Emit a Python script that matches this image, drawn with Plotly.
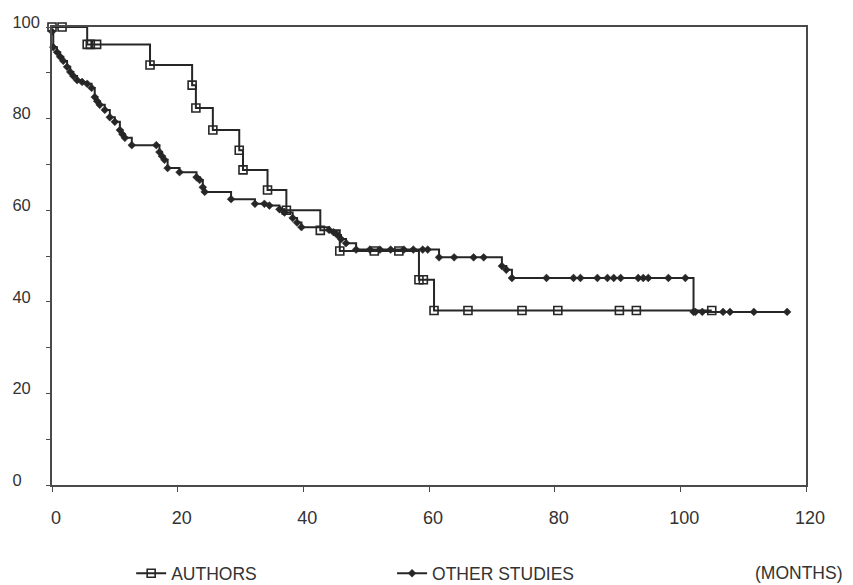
import plotly.graph_objects as go

# ---- data (Kaplan-Meier style survival curves, % vs months) ----
auth_t = [0, 1.6, 5.6, 6.1, 7.1, 15.6, 22.3, 22.9, 25.6, 29.8, 30.4, 34.3, 37.3,
          42.7, 45.8, 51.3, 55.2, 58.4, 59.1, 60.8, 66.2, 74.8, 80.5, 90.3, 93.0, 105.0]
auth_s = [100, 100, 96.2, 96.2, 96.2, 91.7, 87.3, 82.3, 77.5, 73.1, 68.8, 64.4, 60.0,
          55.6, 51.1, 51.1, 51.1, 44.8, 44.8, 38.1, 38.1, 38.1, 38.1, 38.1, 38.1, 38.1]

oth_t = [0, 0.2, 0.8, 1.3, 1.8, 2.4, 2.9, 3.4, 4.0, 4.8,
         5.6, 6.3, 6.8, 7.2, 7.6, 8.4, 9.2, 10.0, 10.8, 11.2,
         11.6, 12.7, 16.6, 17.1, 17.5, 17.9, 18.4, 20.3, 23.0, 23.5,
         24.0, 24.3, 28.5, 32.3, 33.8, 34.6, 36.2, 37.0, 38.3, 39.0,
         39.7, 44.1, 44.8, 45.4, 46.0, 46.8, 48.4, 50.6, 52.2, 53.9,
         56.0, 57.5, 59.0, 59.8, 61.6, 64.0, 67.1, 68.7, 71.6, 72.3,
         73.2, 78.7, 83.0, 84.1, 86.8, 88.4, 89.4, 90.5, 93.3, 94.1,
         94.9, 98.1, 100.8, 102.1, 102.4, 103.5, 106.8, 107.9, 111.7, 117.0]
oth_s = [99.0, 95.6, 94.5, 93.5, 92.6, 91.3, 90.2, 89.3, 88.4, 88.0,
         87.6, 86.7, 84.7, 83.8, 83.0, 81.9, 80.3, 79.3, 77.5, 76.6,
         75.8, 74.2, 74.2, 72.7, 71.8, 71.0, 69.2, 68.3, 67.2, 66.6,
         65.0, 64.0, 62.4, 61.4, 61.4, 61.0, 60.2, 59.5, 58.3, 57.3,
         56.3, 55.7, 55.2, 54.6, 53.7, 52.8, 51.4, 51.4, 51.4, 51.4,
         51.4, 51.4, 51.4, 51.4, 49.7, 49.7, 49.7, 49.7, 47.8, 47.0,
         45.2, 45.2, 45.2, 45.2, 45.2, 45.2, 45.2, 45.2, 45.2, 45.2,
         45.2, 45.2, 45.2, 37.8, 37.8, 37.8, 37.8, 37.8, 37.8, 37.8]

x_ticks = [0, 20, 40, 60, 80, 100, 120]
y_ticks = [0, 20, 40, 60, 80, 100]
y_minor = [10, 30, 50, 70, 90]
series_names = ["AUTHORS", "OTHER STUDIES"]
x_unit = "(MONTHS)"

INK = "#262626"
AXC = "#4a4a4a"
TXT = "#333333"
FONT = "Liberation Sans, Arial, Helvetica, sans-serif"

# y tick labels appear left-aligned in the reference: pad with figure spaces
maxlen = max(len(str(v)) for v in y_ticks)
y_text = [str(v) + "\u2007" * (maxlen - len(str(v))) for v in y_ticks]

fig = go.Figure()
fig.add_trace(go.Scatter(
    x=oth_t, y=oth_s, mode="lines+markers", line_shape="hv",
    name=series_names[1], legend="legend2", cliponaxis=False,
    line=dict(color=INK, width=2),
    marker=dict(symbol="diamond", size=6, color=INK, line=dict(width=0.5, color=INK)),
))
fig.add_trace(go.Scatter(
    x=auth_t, y=auth_s, mode="lines+markers", line_shape="hv",
    name=series_names[0], legend="legend", cliponaxis=False,
    line=dict(color=INK, width=2),
    marker=dict(symbol="square-open", size=8, color=INK, line=dict(width=1.6, color=INK)),
))

LEG_Y = -0.193

# the page body adds an 8px offset, so the figure is 8px smaller and margins compensate
fig.update_layout(
    width=845, height=577,
    margin=dict(l=44, r=47, t=19, b=100, autoexpand=False),
    paper_bgcolor="white", plot_bgcolor="white",
    font=dict(family=FONT, color=TXT, size=15),
    showlegend=True,
    legend=dict(orientation="h", x=0.105, y=LEG_Y, xanchor="left", yanchor="middle",
                font=dict(size=17.5, family=FONT, color=TXT),
                bgcolor="rgba(0,0,0,0)"),
    legend2=dict(orientation="h", x=0.451, y=LEG_Y, xanchor="left", yanchor="middle",
                 font=dict(size=17.5, family=FONT, color=TXT),
                 bgcolor="rgba(0,0,0,0)"),
    xaxis=dict(range=[0, 120], tickvals=x_ticks, ticks="outside", ticklen=5,
               tickcolor=AXC, showline=True, linecolor=AXC, linewidth=1.5,
               mirror=True, showgrid=False, zeroline=False, automargin=False,
               ticklabelstandoff=11, ticklabelshift=4, tickfont=dict(size=18)),
    yaxis=dict(range=[0, 100], tickvals=y_ticks, ticktext=y_text, ticks="outside",
               ticklen=4, tickcolor=AXC, showline=True, linecolor=AXC, linewidth=1.5,
               mirror=True, showgrid=False, zeroline=False, automargin=False,
               minor=dict(tickvals=y_minor, ticks="outside", ticklen=4, tickcolor=AXC),
               ticklabelstandoff=3, ticklabelshift=-5, tickfont=dict(size=16.5)),
    annotations=[dict(text=x_unit, xref="paper", yref="paper", x=1.05, y=LEG_Y,
                      xanchor="right", yanchor="middle", showarrow=False,
                      font=dict(size=17.5, family=FONT, color=TXT))],
)

fig.write_html("out.html")
